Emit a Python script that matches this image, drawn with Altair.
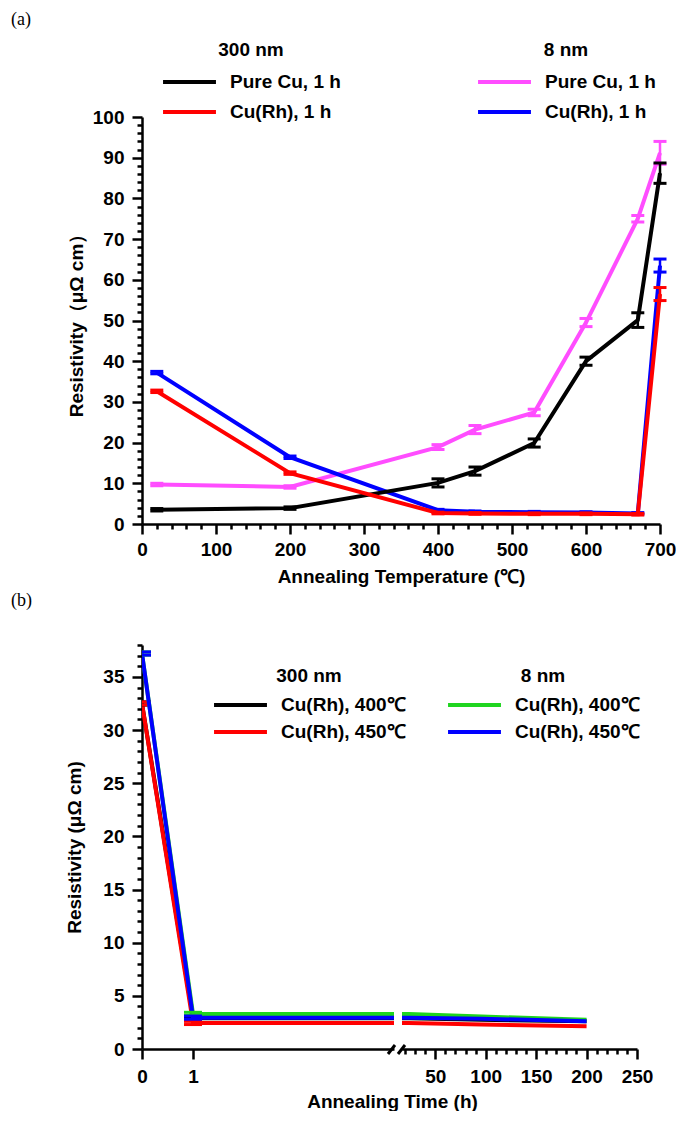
import altair as alt
import pandas as pd

FONT = "Liberation Sans"
FS = 19

# ---------------- (a) data ----------------
temps = [20, 200, 400, 450, 530, 600, 670, 700]
cu300 = [3.5, 3.9, 10.1, 13.0, 19.9, 40.0, 50.1, 86.2]
cu300_err = [0.3, 0.3, 1.0, 1.0, 1.0, 1.0, 1.8, 2.5]
curh300 = [32.6, 12.5, 2.7, 2.6, 2.5, 2.5, 2.4, 56.5]
curh300_err = [0.3, 0.3, 0.2, 0.2, 0.2, 0.2, 0.2, 1.6]
cu8 = [9.7, 9.1, 18.9, 23.2, 27.4, 49.5, 75.0, 91.2]
cu8_err = [0.3, 0.3, 0.6, 1.0, 0.8, 1.0, 0.8, 2.8]
curh8 = [37.2, 16.4, 3.4, 3.0, 2.9, 2.8, 2.6, 63.5]
curh8_err = [0.3, 0.3, 0.2, 0.2, 0.2, 0.2, 0.2, 1.6]

labels_a = ["Pure Cu, 1 h", "Cu(Rh), 1 h"]
colors_300a = ["#000000", "#ff0000"]
colors_8a = ["#ff4dff", "#0000ff"]

# ---------------- (b) data ----------------
times = [0, 1, 24, 96, 200]
b_black = [32.5, 2.9, 2.9, 2.75, 2.6]
b_red = [32.5, 2.45, 2.45, 2.3, 2.15]
b_green = [37.2, 3.3, 3.3, 3.05, 2.75]
b_blue = [37.2, 2.95, 2.95, 2.85, 2.6]
b_err = [0.15, 0.15, 0.0, 0.0, 0.0]
labels_b = ["Cu(Rh), 400℃", "Cu(Rh), 450℃"]
colors_300b = ["#000000", "#ff0000"]
colors_8b = ["#1fd51f", "#0000ff"]


def frame(x, series):
    rows = []
    for lab, vals, errs in series:
        for t, v, e in zip(x, vals, errs):
            rows.append({"label": lab, "T": t, "R": v, "lo": v - e, "hi": v + e})
    return pd.DataFrame(rows)


dfa300 = frame(temps, [(labels_a[0], cu300, cu300_err), (labels_a[1], curh300, curh300_err)])
dfa8 = frame(temps, [(labels_a[0], cu8, cu8_err), (labels_a[1], curh8, curh8_err)])
dfb300 = frame(times, [(labels_b[0], b_black, b_err), (labels_b[1], b_red, b_err)])
dfb8 = frame(times, [(labels_b[0], b_green, b_err), (labels_b[1], b_blue, b_err)])


def legend(title, lx, ly, clip_h, row_pad, title_pad):
    return alt.Legend(
        title=title, orient="none", legendX=lx, legendY=ly,
        symbolType="stroke", symbolSize=2800, symbolStrokeWidth=4, symbolOpacity=1,
        labelFont=FONT, labelFontSize=FS, labelFontWeight="bold", labelColor="black",
        labelOffset=12, titleFont=FONT, titleFontSize=FS, titleFontWeight="bold",
        titleColor="black", titleAnchor="middle", titlePadding=title_pad,
        clipHeight=clip_h, rowPadding=row_pad, padding=0,
    )


def group(df, domain, rng, leg, xscale, xaxis, yscale, yaxis, clip=False, cap=13):
    color = alt.Color("label:N", scale=alt.Scale(domain=domain, range=rng), legend=leg)
    base = alt.Chart(df).encode(x=alt.X("T:Q", scale=xscale, axis=xaxis), color=color)
    line = base.mark_line(strokeWidth=4, clip=clip).encode(
        y=alt.Y("R:Q", scale=yscale, axis=yaxis)
    )
    rule = base.mark_rule(strokeWidth=2.5, clip=clip).encode(
        y=alt.Y("lo:Q", scale=yscale, axis=yaxis), y2="hi:Q"
    )
    caps = base.transform_fold(["lo", "hi"], as_=["k", "v"]).mark_tick(
        orient="horizontal", size=cap, thickness=3, clip=clip, opacity=1
    ).encode(y=alt.Y("v:Q", scale=yscale, axis=yaxis))
    return alt.layer(line, rule, caps)


def axis(values, major_test, title, **kw):
    return alt.Axis(
        values=values, title=title,
        labelExpr=f"{major_test} ? datum.label : ''",
        tickSize={"condition": {"test": major_test, "value": 10}, "value": 5},
        tickWidth=2.5, tickColor="black", domainColor="black", domainWidth=2.5,
        labelFont=FONT, labelFontSize=FS, labelFontWeight="bold", labelColor="black",
        titleFont=FONT, titleFontSize=FS, titleFontWeight="bold", titleColor="black",
        labelOverlap=False, labelFlush=False, labelBound=False, grid=False, **kw
    )


def text_label(s, x, y):
    return alt.Chart(pd.DataFrame({"t": [s]})).mark_text(
        font="Liberation Serif", fontSize=18, align="left", baseline="middle", color="black"
    ).encode(text="t:N", x=alt.value(x), y=alt.value(y))


# ---------------- panel (a) ----------------
xs_a = alt.Scale(domain=[0, 700], nice=False)
ys_a = alt.Scale(domain=[0, 100], nice=False)
xa = axis(list(range(0, 701, 20)), "datum.value % 100 === 0",
          "Annealing Temperature (℃)", labelPadding=6, titlePadding=8)
ya = axis(list(range(0, 101, 2)), "datum.value % 10 === 0",
          "Resistivity（μΩ  cm）", labelPadding=8, titlePadding=6)

ga300 = group(dfa300, labels_a, colors_300a, legend("300 nm", 19, -76, 24, 6, 10),
              xs_a, xa, ys_a, ya)
ga8 = group(dfa8, labels_a, colors_8a, legend("8 nm", 334, -76, 24, 6, 10),
            xs_a, xa, ys_a, ya)

top = alt.layer(ga8, ga300, text_label("(a)", -131, -97)).resolve_scale(
    color="independent"
).properties(width=518, height=407)

# ---------------- panel (b) ----------------
ys_b = alt.Scale(domain=[0, 38], nice=False)
yb = axis(list(range(0, 39, 1)), "datum.value % 5 === 0",
          "Resistivity (μΩ cm)", labelPadding=8, titlePadding=18)
xs_bl = alt.Scale(domain=[0, 4.94], nice=False)
xbl = axis([0, 1], "true", "Annealing Time (h)", labelPadding=8,
           titlePadding=6, titleX=250)
xs_br = alt.Scale(domain=[17, 250], nice=False)
xbr = axis(list(range(20, 251, 10)), "datum.value % 50 === 0", None, labelPadding=8)

gb300 = group(dfb300, labels_b, colors_300b, legend("300 nm", 70, 22, 22, 5, 8),
              xs_bl, xbl, ys_b, yb, clip=True, cap=18)
gb8 = group(dfb8, labels_b, colors_8b, legend("8 nm", 304, 22, 22, 5, 8),
            xs_bl, xbl, ys_b, yb, clip=True, cap=18)

BH = 404
brk = alt.Chart(pd.DataFrame({"a": [0]}))
brk_left = brk.mark_rule(strokeWidth=3, color="black").encode(
    x=alt.value(246), x2=alt.value(253), y=alt.value(BH + 5), y2=alt.value(BH - 4))
brk_right = brk.mark_rule(strokeWidth=3, color="black").encode(
    x=alt.value(-4), x2=alt.value(3), y=alt.value(BH + 5), y2=alt.value(BH - 4))

left = alt.layer(gb300, gb8, text_label("(b)", -131, -44), brk_left).resolve_scale(
    color="independent"
).properties(width=252, height=BH)

right_layers = []
for df, cols in [(dfb300, colors_300b), (dfb8, colors_8b)]:
    for lab, col in zip(labels_b, cols):
        base = alt.Chart(df).transform_filter(alt.datum.label == lab).encode(
            x=alt.X("T:Q", scale=xs_br, axis=xbr))
        right_layers.append(base.mark_line(strokeWidth=4, clip=True, color=col).encode(
            y=alt.Y("R:Q", scale=ys_b, axis=None)))
right = alt.layer(*right_layers, brk_right).properties(width=235, height=BH)

bottom = alt.hconcat(left, right, spacing=8, bounds="flush").resolve_scale(color="independent")

chart = alt.vconcat(top, bottom, spacing=121, bounds="flush").resolve_scale(
    color="independent"
).properties(padding={"left": 3, "top": 3, "right": 0, "bottom": 0}).configure(
    font=FONT, view=alt.ViewConfig(stroke=None, fill=None)
)

chart.save("out.html", embed_options={"renderer": "svg", "actions": False})
